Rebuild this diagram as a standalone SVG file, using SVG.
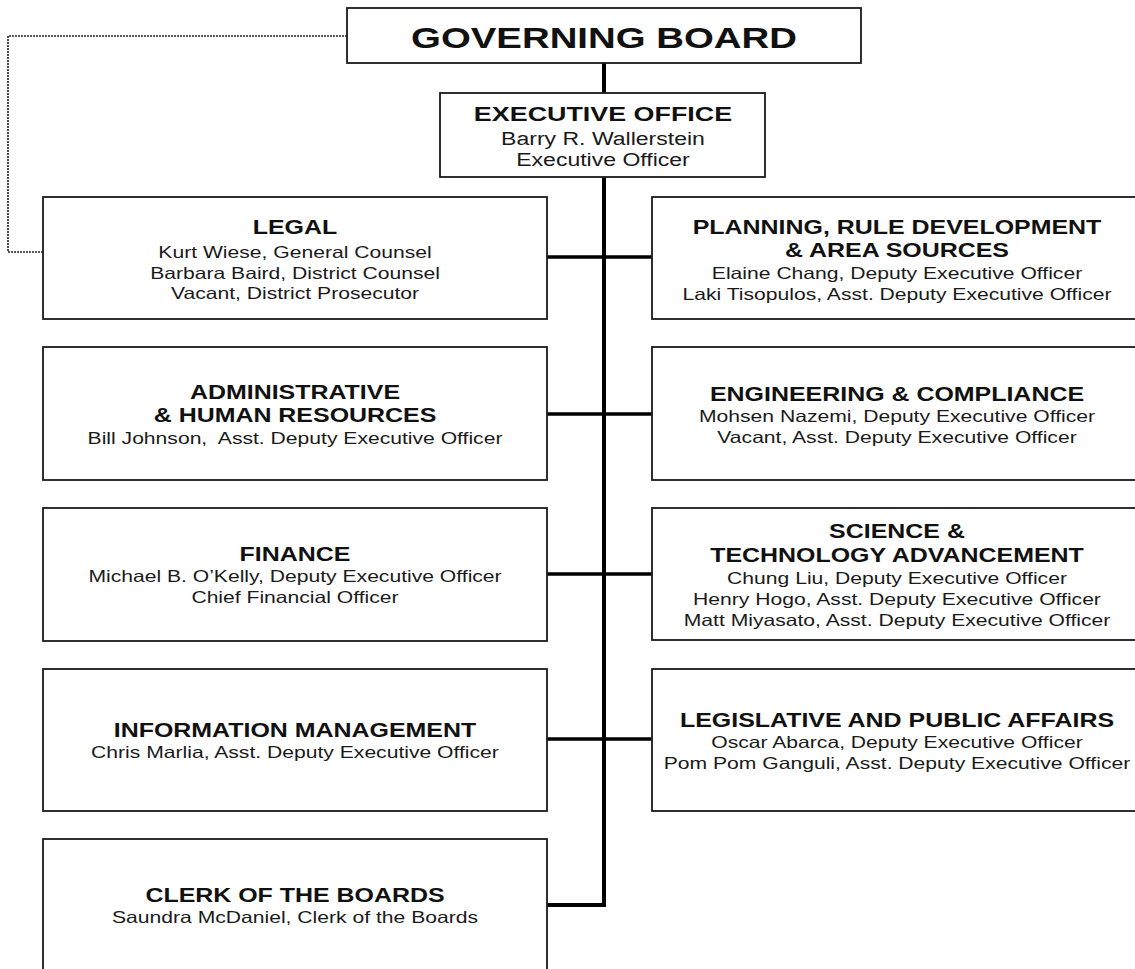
<svg xmlns="http://www.w3.org/2000/svg" width="1135" height="969" viewBox="0 0 1135 969">
<style>
.box{fill:#fff;stroke:#1a1a1a;stroke-width:1.8}
.h{font-family:"Liberation Sans",Arial,sans-serif;font-weight:bold;font-size:19.5px;fill:#111;text-anchor:middle}
.t{font-family:"Liberation Sans",Arial,sans-serif;font-size:16.5px;fill:#1a1a1a;text-anchor:middle;white-space:pre}
.gb{font-size:30px}
.e{font-size:21px}
.et{font-size:18px}
.conn{fill:none;stroke:#000;stroke-width:3.5;stroke-linejoin:miter}
.dot{fill:none;stroke:#222;stroke-width:1.6;stroke-dasharray:2 1}
</style>
<rect width="1135" height="969" fill="#fff"/>
<g id="connectors">
<path class="dot" d="M347 36 H8 V252 H43"/>
<path class="conn" style="stroke-width:4" d="M604 63 V93 M604 177 V905 H547"/>
<path class="conn" d="M547 257 H652 M547 414 H652 M547 574 H652 M547 739 H652"/>
</g>
<g id="governing-board">
<rect class="box" x="347" y="8" width="514" height="55"/>
<text class="h gb" transform="matrix(1.28 0 0 1 604 48)">GOVERNING BOARD</text>
</g>
<g id="executive-office">
<rect class="box" x="440" y="93" width="325" height="84"/>
<text class="h e" transform="matrix(1.28 0 0 1 603 121)">EXECUTIVE OFFICE</text>
<text class="t et" transform="matrix(1.28 0 0 1 603 145)">Barry R. Wallerstein</text>
<text class="t et" transform="matrix(1.28 0 0 1 603 166)">Executive Officer</text>
</g>
<g id="legal">
<rect class="box" x="43" y="197" width="504" height="122"/>
<text class="h" transform="matrix(1.28 0 0 1 295 234)">LEGAL</text>
<text class="t" transform="matrix(1.28 0 0 1 295 258)">Kurt Wiese, General Counsel</text>
<text class="t" transform="matrix(1.28 0 0 1 295 279)">Barbara Baird, District Counsel</text>
<text class="t" transform="matrix(1.28 0 0 1 295 299)">Vacant, District Prosecutor</text>
</g>
<g id="planning">
<rect class="box" x="652" y="197" width="492" height="122"/>
<text class="h" transform="matrix(1.28 0 0 1 897 234)">PLANNING, RULE DEVELOPMENT</text>
<text class="h" transform="matrix(1.28 0 0 1 897 257)">&amp; AREA SOURCES</text>
<text class="t" transform="matrix(1.28 0 0 1 897 279)">Elaine Chang, Deputy Executive Officer</text>
<text class="t" transform="matrix(1.28 0 0 1 897 300)">Laki Tisopulos, Asst. Deputy Executive Officer</text>
</g>
<g id="administrative">
<rect class="box" x="43" y="347" width="504" height="133"/>
<text class="h" transform="matrix(1.28 0 0 1 295 399)">ADMINISTRATIVE</text>
<text class="h" transform="matrix(1.28 0 0 1 295 422)">&amp; HUMAN RESOURCES</text>
<text class="t" transform="matrix(1.28 0 0 1 295 444)">Bill Johnson,  Asst. Deputy Executive Officer</text>
</g>
<g id="engineering">
<rect class="box" x="652" y="347" width="492" height="133"/>
<text class="h" transform="matrix(1.28 0 0 1 897 401)">ENGINEERING &amp; COMPLIANCE</text>
<text class="t" transform="matrix(1.28 0 0 1 897 422)">Mohsen Nazemi, Deputy Executive Officer</text>
<text class="t" transform="matrix(1.28 0 0 1 897 443)">Vacant, Asst. Deputy Executive Officer</text>
</g>
<g id="finance">
<rect class="box" x="43" y="508" width="504" height="133"/>
<text class="h" transform="matrix(1.28 0 0 1 295 561)">FINANCE</text>
<text class="t" transform="matrix(1.28 0 0 1 295 582)">Michael B. O’Kelly, Deputy Executive Officer</text>
<text class="t" transform="matrix(1.28 0 0 1 295 603)">Chief Financial Officer</text>
</g>
<g id="science">
<rect class="box" x="652" y="508" width="492" height="132"/>
<text class="h" transform="matrix(1.28 0 0 1 897 538)">SCIENCE &amp;</text>
<text class="h" transform="matrix(1.28 0 0 1 897 562)">TECHNOLOGY ADVANCEMENT</text>
<text class="t" transform="matrix(1.28 0 0 1 897 584)">Chung Liu, Deputy Executive Officer</text>
<text class="t" transform="matrix(1.28 0 0 1 897 605)">Henry Hogo, Asst. Deputy Executive Officer</text>
<text class="t" transform="matrix(1.28 0 0 1 897 626)">Matt Miyasato, Asst. Deputy Executive Officer</text>
</g>
<g id="information-management">
<rect class="box" x="43" y="669" width="504" height="142"/>
<text class="h" transform="matrix(1.28 0 0 1 295 737)">INFORMATION MANAGEMENT</text>
<text class="t" transform="matrix(1.28 0 0 1 295 758)">Chris Marlia, Asst. Deputy Executive Officer</text>
</g>
<g id="legislative">
<rect class="box" x="652" y="669" width="492" height="142"/>
<text class="h" transform="matrix(1.28 0 0 1 897 727)">LEGISLATIVE AND PUBLIC AFFAIRS</text>
<text class="t" transform="matrix(1.28 0 0 1 897 748)">Oscar Abarca, Deputy Executive Officer</text>
<text class="t" transform="matrix(1.28 0 0 1 897 769)">Pom Pom Ganguli, Asst. Deputy Executive Officer</text>
</g>
<g id="clerk">
<rect class="box" x="43" y="839" width="504" height="140"/>
<text class="h" transform="matrix(1.28 0 0 1 295 902)">CLERK OF THE BOARDS</text>
<text class="t" transform="matrix(1.28 0 0 1 295 923)">Saundra McDaniel, Clerk of the Boards</text>
</g>
</svg>
